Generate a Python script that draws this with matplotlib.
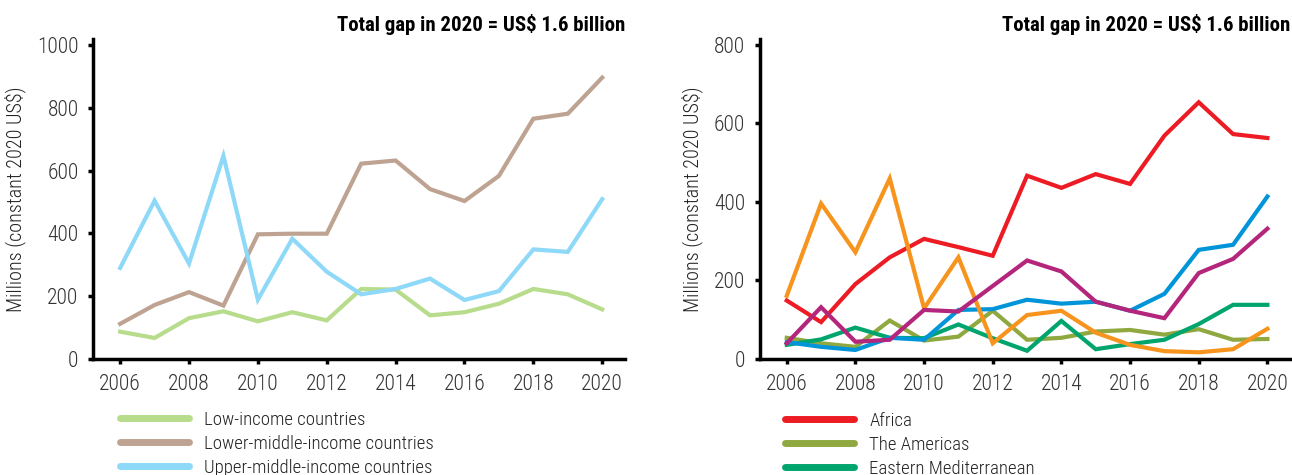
import matplotlib
matplotlib.use("Agg")
import matplotlib.pyplot as plt

plt.rcParams['font.family'] = ['Roboto Condensed', 'Barlow Condensed', 'DejaVu Sans']

years = list(range(2006, 2021))

# left panel: by income group
low_income = [87, 67, 130, 152, 120, 149, 123, 223, 221, 139, 149, 176, 223, 206, 158]
lower_middle = [112, 172, 213, 170, 397, 399, 399, 622, 632, 541, 503, 583, 765, 781, 896]
upper_middle = [290, 504, 304, 647, 189, 383, 278, 206, 223, 256, 188, 216, 349, 341, 509]
income_labels = ["Low-income countries", "Lower-middle-income countries",
                 "Upper-middle-income countries"]
income_colors = ["#b7dc8c", "#bea392", "#8ed8f8"]

# right panel: by WHO region
africa = [149, 94, 191, 259, 306, 285, 263, 467, 436, 471, 446, 569, 654, 573, 563]
americas = [54, 40, 31, 98, 47, 57, 123, 49, 54, 70, 74, 62, 76, 49, 51]
east_med = [36, 50, 80, 54, 53, 88, 53, 21, 97, 25, 38, 49, 89, 138, 138]
europe = [43, 31, 23, 54, 49, 125, 127, 151, 141, 146, 123, 166, 278, 291, 414]
se_asia = [161, 396, 272, 460, 129, 259, 40, 112, 123, 67, 36, 20, 17, 25, 77]
w_pacific = [40, 132, 44, 49, 125, 121, 186, 251, 223, 146, 123, 104, 219, 255, 332]
region_labels = ["Africa", "The Americas", "Eastern Mediterranean", "Europe",
                 "South-East Asia", "Western Pacific"]
region_colors = ["#ed1c24", "#8fa83f", "#00a56e", "#0095d9", "#f7941d", "#b4267b"]

title = "Total gap in 2020 = US$ 1.6 billion"
ylabel = "Millions (constant 2020 US$)"

fig = plt.figure(figsize=(12.92, 4.75), dpi=100)
ax1 = fig.add_axes([0.0722, 0.2442, 0.4115, 0.6731])
ax2 = fig.add_axes([0.5882, 0.2442, 0.4103, 0.6731])


def style_axis(ax, ymax, yticks):
    for s in ["top", "right"]:
        ax.spines[s].set_visible(False)
    for s in ["left", "bottom"]:
        ax.spines[s].set_linewidth(2.5)
    ax.set_xlim(2005.22, 2020.66)
    ax.set_ylim(0, ymax)
    ax.set_xticks(range(2006, 2021, 2))
    ax.set_yticks(yticks)
    ax.tick_params(axis="both", length=3.6, width=2.5, labelsize=15.5,
                   labelcolor="#333333", pad=7)
    for t in ax.get_xticklabels() + ax.get_yticklabels():
        t.set_fontweight("light")
    ax.set_ylabel(ylabel, fontsize=14.5, color="#222222", labelpad=8,
                  fontweight="light")


lines1 = []
for vals, col, lab in zip([low_income, lower_middle, upper_middle], income_colors, income_labels):
    ln, = ax1.plot(years, vals, color=col, lw=3, label=lab, solid_joinstyle="miter")
    lines1.append(ln)
style_axis(ax1, 1018, range(0, 1001, 200))

lines2 = []
for vals, col, lab in zip([africa, americas, east_med, europe, se_asia, w_pacific],
                          region_colors, region_labels):
    ln, = ax2.plot(years, vals, color=col, lw=3, label=lab, solid_joinstyle="miter")
    lines2.append(ln)
style_axis(ax2, 814.5, range(0, 801, 200))

fig.text(625 / 1292, 1 - 31 / 475, title, ha="right", va="baseline",
         fontsize=15, fontweight="bold")
fig.text(1290 / 1292, 1 - 31 / 475, title, ha="right", va="baseline",
         fontsize=15, fontweight="bold")

leg_kw = dict(frameon=False, fontsize=13.5, handlelength=3.7, handletextpad=0.8,
              labelspacing=0.32, borderaxespad=0, borderpad=0, loc="upper left",
              prop={"weight": "light", "size": 13.5})
leg_kw.pop("fontsize")
leg1 = fig.legend(handles=lines1, bbox_to_anchor=(120 / 1292, 1 - 411 / 475), **leg_kw)
leg2 = fig.legend(handles=lines2, bbox_to_anchor=(785 / 1292, 1 - 412 / 475), **leg_kw)
for leg in [leg1, leg2]:
    for h in leg.legend_handles:
        h.set_linewidth(5)
        h.set_solid_capstyle("round")
    for t in leg.get_texts():
        t.set_color("#222222")

fig.savefig("out.png", dpi=100)
